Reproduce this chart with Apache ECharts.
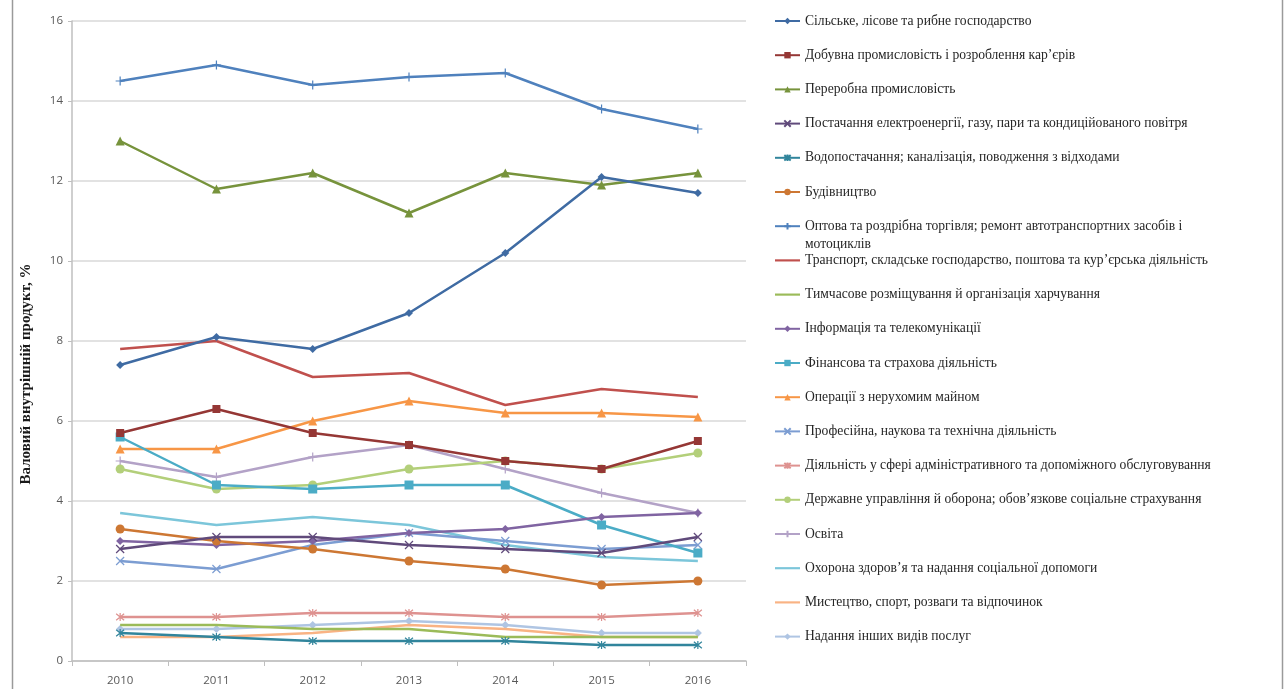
<!DOCTYPE html>
<html>
<head>
<meta charset="utf-8">
<script src="https://cdn.jsdelivr.net/npm/echarts@6/dist/echarts.min.js"></script>
<style>
  html, body { margin: 0; padding: 0; background: #ffffff; }
  #chart { width: 1285px; height: 689px; }
</style>
</head>
<body>
<div id="chart"></div>
<script>
// Частка видів економічної діяльності у ВВП, %, 2010–2016
const years = ['2010', '2011', '2012', '2013', '2014', '2015', '2016'];

const names = [
  'Сільське, лісове та рибне господарство',
  'Добувна промисловість і розроблення кар’єрів',
  'Переробна промисловість',
  'Постачання електроенергії, газу, пари та кондиційованого повітря',
  'Водопостачання; каналізація, поводження з відходами',
  'Будівництво',
  'Оптова та роздрібна торгівля; ремонт автотранспортних засобів і мотоциклів',
  'Транспорт, складське господарство, поштова та кур’єрська діяльність',
  'Тимчасове розміщування й організація харчування',
  'Інформація та телекомунікації',
  'Фінансова та страхова діяльність',
  'Операції з нерухомим майном',
  'Професійна, наукова та технічна діяльність',
  'Діяльність у сфері адміністративного та допоміжного обслуговування',
  'Державне управління й оборона; обов’язкове соціальне страхування',
  'Освіта',
  'Охорона здоров’я та надання соціальної допомоги',
  'Мистецтво, спорт, розваги та відпочинок',
  'Надання інших видів послуг'
];

const agriculture   = [7.4, 8.1, 7.8, 8.7, 10.2, 12.1, 11.7];
const mining        = [5.7, 6.3, 5.7, 5.4, 5.0, 4.8, 5.5];
const manufacturing = [13.0, 11.8, 12.2, 11.2, 12.2, 11.9, 12.2];
const energy        = [2.8, 3.1, 3.1, 2.9, 2.8, 2.7, 3.1];
const water         = [0.7, 0.6, 0.5, 0.5, 0.5, 0.4, 0.4];
const construction  = [3.3, 3.0, 2.8, 2.5, 2.3, 1.9, 2.0];
const trade         = [14.5, 14.9, 14.4, 14.6, 14.7, 13.8, 13.3];
const transport     = [7.8, 8.0, 7.1, 7.2, 6.4, 6.8, 6.6];
const hospitality   = [0.9, 0.9, 0.8, 0.8, 0.6, 0.6, 0.6];
const infoTelecom   = [3.0, 2.9, 3.0, 3.2, 3.3, 3.6, 3.7];
const finance       = [5.6, 4.4, 4.3, 4.4, 4.4, 3.4, 2.7];
const realEstate    = [5.3, 5.3, 6.0, 6.5, 6.2, 6.2, 6.1];
const professional  = [2.5, 2.3, 2.9, 3.2, 3.0, 2.8, 2.9];
const administrative= [1.1, 1.1, 1.2, 1.2, 1.1, 1.1, 1.2];
const publicAdmin   = [4.8, 4.3, 4.4, 4.8, 5.0, 4.8, 5.2];
const education     = [5.0, 4.6, 5.1, 5.4, 4.8, 4.2, 3.7];
const health        = [3.7, 3.4, 3.6, 3.4, 2.9, 2.6, 2.5];
const arts          = [0.6, 0.6, 0.7, 0.9, 0.8, 0.6, 0.6];
const otherServices = [0.8, 0.8, 0.9, 1.0, 0.9, 0.7, 0.7];

const yTicks = [0, 2, 4, 6, 8, 10, 12, 14, 16];

const values = [agriculture, mining, manufacturing, energy, water, construction,
  trade, transport, hospitality, infoTelecom, finance, realEstate, professional,
  administrative, publicAdmin, education, health, arts, otherServices];

const colors = ['#3F6BA3', '#953735', '#77933C', '#604A7B', '#31859C', '#CD7733',
  '#4F81BD', '#C0504D', '#9BBB59', '#8064A2', '#4BACC6', '#F79646',
  '#7C9DD2', '#DE9290', '#B3CF7A', '#B3A2C7', '#7CC6DA', '#F9B384', '#AFC5E3'];

const CROSS = 'path://M0,0L10,10M10,0L0,10';
const STAR  = 'path://M0,0L10,10M10,0L0,10M5,-1L5,11';
const PLUS  = 'path://M5,0L5,10M0,5L10,5';
const PLAIN_LINE = 'path://M0,0H30V2.6H0Z';

// marker type and size per series
const markers = [
  ['diamond', 8], ['rect', 8], ['triangle', 9], [CROSS, 8], [STAR, 8], ['circle', 9],
  [PLUS, 9], ['none', 0], ['none', 0], ['diamond', 8], ['rect', 9], ['triangle', 9],
  [CROSS, 8], [STAR, 8], ['circle', 9], [PLUS, 9], ['none', 0], ['none', 0], ['diamond', 8]
];
const strokeMarkers = [CROSS, STAR, PLUS];

const series = names.map((name, i) => {
  const c = colors[i];
  const [sym, size] = markers[i];
  const stroked = strokeMarkers.includes(sym);
  return {
    name: name,
    type: 'line',
    data: values[i],
    symbol: sym,
    symbolSize: size,
    showSymbol: sym !== 'none',
    z: 30 - i,
    lineStyle: { color: c, width: 2.5 },
    itemStyle: stroked
      ? { color: c, borderColor: c, borderWidth: 1.2 }
      : { color: c, borderWidth: 0 },
    emphasis: { disabled: true },
    animation: false
  };
});

// legend entries: series without markers get a plain line icon
const legendData = names.map((name, i) =>
  markers[i][0] === 'none' ? { name: name, icon: PLAIN_LINE } : { name: name }
);

const chart = echarts.init(document.getElementById('chart'), null, { renderer: 'canvas' });

const tradeFirstLine = 'Оптова та роздрібна торгівля; ремонт автотранспортних засобів і';
const serifFont = '"Liberation Serif", "Times New Roman", serif';

chart.setOption({
  backgroundColor: '#ffffff',
  animation: false,
  color: colors,
  grid: { left: 72, right: 539, top: 21, bottom: 28, containLabel: false },
  legend: {
    orient: 'vertical',
    left: 769,
    top: 8,
    itemWidth: 25,
    itemHeight: 8,
    itemGap: 18.2,
    symbolKeepAspect: true,
    selectedMode: false,
    data: legendData,
    formatter: n => (n === names[6] ? tradeFirstLine : n),
    textStyle: {
      fontFamily: serifFont,
      fontSize: 13.6,
      lineHeight: 16,
      color: '#262626'
    }
  },
  xAxis: {
    type: 'category',
    data: years,
    boundaryGap: true,
    axisLine: { lineStyle: { color: '#BFBFBF', width: 1.5 } },
    axisTick: { show: true, length: 5, lineStyle: { color: '#BFBFBF' } },
    axisLabel: {
      margin: 14,
      fontFamily: '"Open Sans", "Liberation Sans", sans-serif',
      fontSize: 11.5,
      color: '#595959'
    },
    splitLine: { show: false }
  },
  yAxis: {
    type: 'value',
    min: yTicks[0],
    max: yTicks[yTicks.length - 1],
    interval: 2,
    axisLine: { show: true, lineStyle: { color: '#BFBFBF', width: 1.5 } },
    axisTick: { show: true, length: 4, lineStyle: { color: '#BFBFBF' } },
    axisLabel: {
      margin: 9,
      fontFamily: '"Open Sans", "Liberation Sans", sans-serif',
      fontSize: 11.5,
      color: '#595959'
    },
    splitLine: { show: true, lineStyle: { color: '#D9D9D9', width: 1.5 } }
  },
  graphic: [
    {
      type: 'text',
      x: 26,
      y: 374,
      rotation: Math.PI / 2,
      style: {
        text: 'Валовий внутрішній продукт, %',
        fontFamily: serifFont,
        fontWeight: 'bold',
        fontSize: 15,
        fill: '#1a1a1a',
        align: 'center',
        verticalAlign: 'middle'
      }
    },
    {
      type: 'text',
      left: 805,
      top: 237,
      style: {
        text: 'мотоциклів',
        fontFamily: serifFont,
        fontSize: 13.6,
        fill: '#262626'
      }
    },
    {
      type: 'line',
      shape: { x1: 12.5, y1: 0, x2: 12.5, y2: 689 },
      style: { stroke: '#9a9a9a', lineWidth: 1.5 }
    },
    {
      type: 'line',
      shape: { x1: 1282.5, y1: 0, x2: 1282.5, y2: 689 },
      style: { stroke: '#9a9a9a', lineWidth: 1.5 }
    }
  ],
  series: series
});
</script>
</body>
</html>
